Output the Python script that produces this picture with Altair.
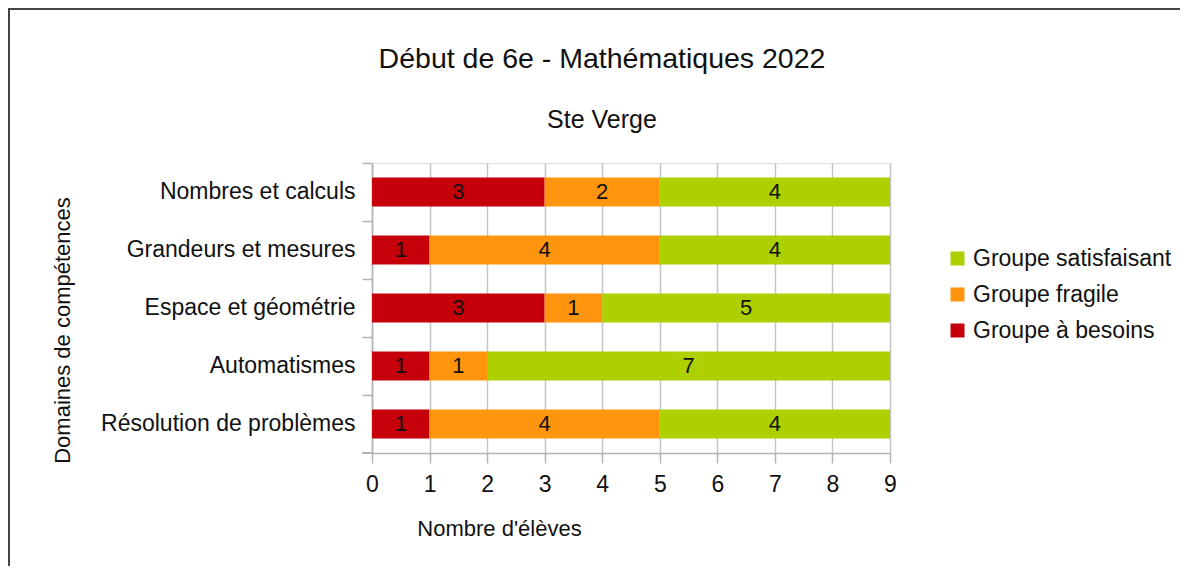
import altair as alt
import pandas as pd

domains = ["Nombres et calculs", "Grandeurs et mesures", "Espace et géométrie",
           "Automatismes", "Résolution de problèmes"]
groups = ["Groupe à besoins", "Groupe fragile", "Groupe satisfaisant"]
besoins = [3, 1, 3, 1, 1]
fragile = [2, 4, 1, 1, 4]
satisfaisant = [4, 4, 5, 7, 4]
x_ticks = [0, 1, 2, 3, 4, 5, 6, 7, 8, 9]

legend_order = ["Groupe satisfaisant", "Groupe fragile", "Groupe à besoins"]
legend_colors = ["#aecf00", "#ff950e", "#c5000b"]

rows = []
for i, d in enumerate(domains):
    for k, (g, vals) in enumerate(zip(groups, [besoins, fragile, satisfaisant])):
        rows.append({"domaine": d, "groupe": g, "n": vals[i], "ordre": k})
df = pd.DataFrame(rows)

FONT = "Liberation Sans"

base = alt.Chart(df).transform_stack(
    stack="n", groupby=["domaine"], as_=["x0", "x1"],
    sort=[alt.SortField("ordre", order="ascending")]
).transform_calculate(mid="(datum.x0 + datum.x1) / 2")

yenc = alt.Y("domaine:N", sort=domains,
             scale=alt.Scale(paddingInner=0, paddingOuter=0),
             axis=alt.Axis(title="Domaines de compétences", bandPosition=0,
                           labelFontSize=23, labelFont=FONT, labelColor="#111",
                           labelLimit=400,
                           labelPadding=7, tickSize=10, tickColor="#b3b3b3",
                           tickWidth=1.5, domainColor="#b3b3b3", domainWidth=1.5,
                           grid=False, titleFontSize=22, titleFont=FONT,
                           titleFontWeight="normal", titleColor="#111",
                           titleAngle=270, titleX=-310, titleY=167,
                           titleAlign="center", titleBaseline="middle"))

xscale = alt.Scale(domain=[0, 9], nice=False, zero=True)
xaxis = alt.Axis(title="Nombre d'élèves", values=x_ticks, format="d",
                 labelFontSize=23, labelFont=FONT, labelColor="#111", labelFlush=False,
                 labelPadding=10, tickSize=10, tickColor="#b3b3b3", tickWidth=1.5,
                 domainColor="#b3b3b3", domainWidth=1.5, grid=True,
                 gridColor="#c4c4c4", gridWidth=1.5, titleFontSize=22,
                 titleFont=FONT, titleFontWeight="normal", titleColor="#111",
                 titleX=127, titleY=75, titleAlign="center", titleBaseline="middle")

bars = base.mark_bar(height={"band": 0.5}).encode(
    y=yenc,
    x=alt.X("x0:Q", scale=xscale, axis=xaxis),
    x2="x1:Q",
    color=alt.Color("groupe:N", scale=alt.Scale(domain=legend_order, range=legend_colors),
                    legend=alt.Legend(title=None, orient="none", legendX=574, legendY=84,
                                      symbolType="square", symbolSize=196,
                                      symbolStrokeWidth=0, labelFontSize=23,
                                      labelFont=FONT, labelColor="#111", labelLimit=400,
                                      rowPadding=12, labelOffset=4, padding=0)),
)

labels = base.mark_text(fontSize=22, font=FONT, color="#111", baseline="middle").encode(
    y=alt.Y("domaine:N", sort=domains),
    x=alt.X("mid:Q"),
    text="n:Q",
)

# decorative frame (top and left edges of the chart box)
frame_top = alt.Chart(df).mark_rule(color="#444", strokeWidth=2).encode(
    x=alt.value(-364), x2=alt.value(811), y=alt.value(-154))
frame_left = alt.Chart(df).mark_rule(color="#444", strokeWidth=2).encode(
    x=alt.value(-363), y=alt.value(-155), y2=alt.value(403))
# bottom y-axis tick (axis line extension)
bottom_tick = alt.Chart(df).mark_rule(color="#b3b3b3", strokeWidth=1.5).encode(
    x=alt.value(-10), x2=alt.value(0), y=alt.value(290))

chart = alt.layer(bars, labels, frame_top, frame_left, bottom_tick).properties(
    width=518, height=290,
    title=alt.TitleParams(text="Début de 6e - Mathématiques 2022", subtitle="Ste Verge",
                          fontSize=28.5, subtitleFontSize=25, font=FONT, subtitleFont=FONT,
                          fontWeight="normal", color="#111", subtitleColor="#111",
                          anchor="middle", dx=-29, offset=-126, subtitlePadding=35),
    autosize=alt.AutoSizeParams(type="none"),
    padding={"left": 364, "top": 155, "right": 290, "bottom": 113},
).configure_view(stroke="#b3b3b3", strokeWidth=1.5).configure(background="white")

chart.save("out.html", embed_options={"renderer": "svg", "actions": False})
